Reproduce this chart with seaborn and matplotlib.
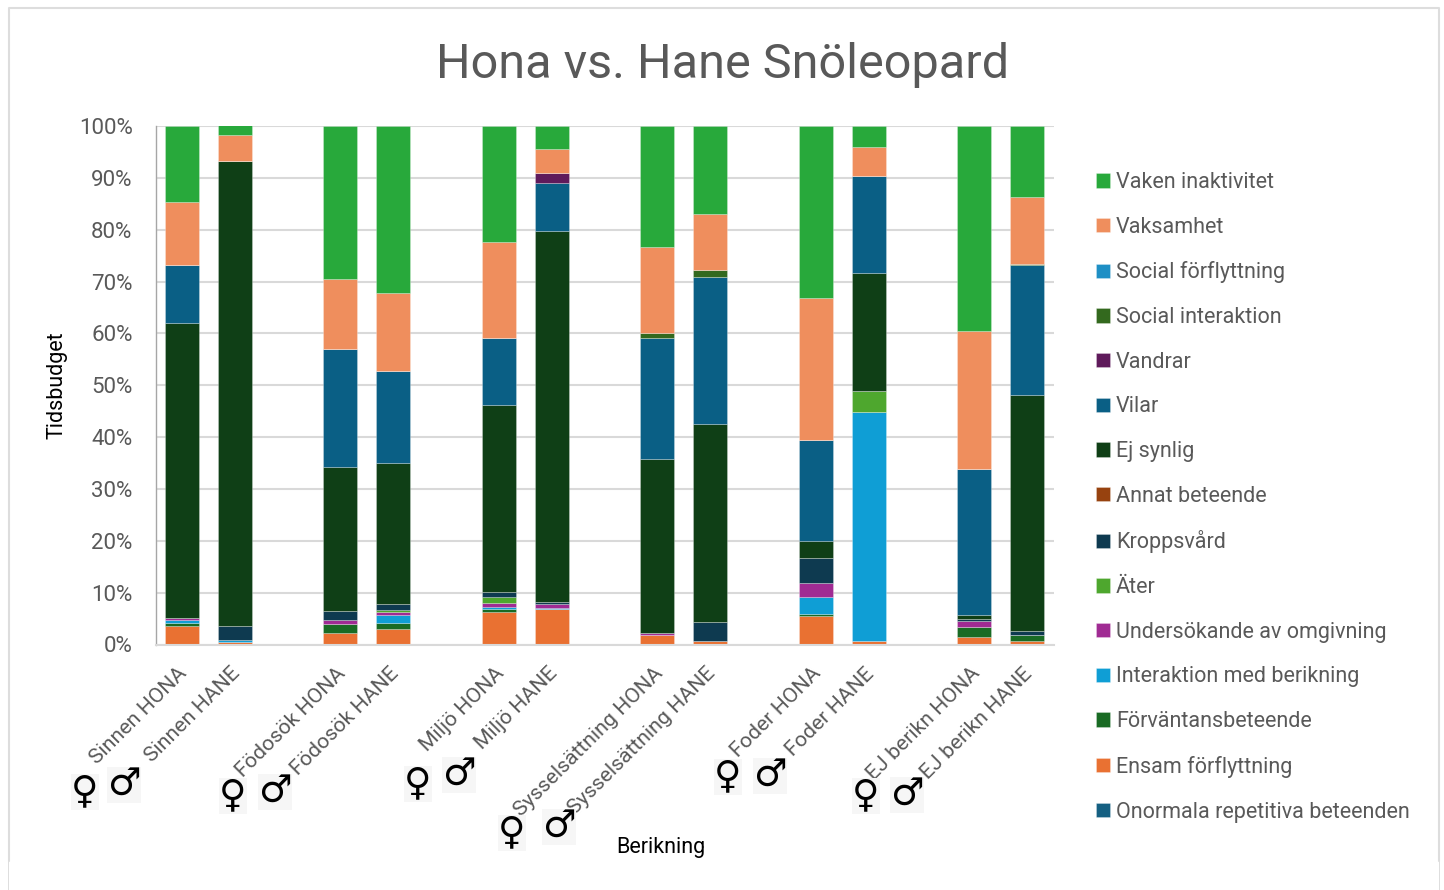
import matplotlib
matplotlib.use('Agg')
import matplotlib.pyplot as plt
from matplotlib.lines import Line2D
from matplotlib.transforms import ScaledTranslation
import numpy as np
import seaborn as sns

bar_labels = ['Sinnen HONA', 'Sinnen HANE', 'Födosök HONA', 'Födosök HANE', 'Miljö HONA', 'Miljö HANE',
              'Sysselsättning HONA', 'Sysselsättning HANE', 'Foder HONA', 'Foder HANE', 'EJ berikn HONA', 'EJ berikn HANE']
bar_slots = [0, 1, 3, 4, 6, 7, 9, 10, 12, 13, 15, 16]

# andel per beteende, nerifrån och upp
onormala = [0.1, 0, 0, 0, 0, 0, 0, 0, 0, 0, 0, 0]
ensam = [3.4, 0.5, 2.2, 3.0, 6.3, 6.8, 1.9, 0.65, 5.5, 0.65, 1.4, 0.65]
forvantans = [0.65, 0, 1.8, 1.2, 0.5, 0, 0, 0, 0.35, 0, 2.0, 1.25]
interaktion = [0.5, 0.3, 0, 1.4, 0.4, 0.3, 0, 0, 3.25, 44.25, 0, 0]
undersokande = [0.4, 0, 0.8, 0.7, 0.8, 0.8, 0.3, 0, 2.7, 0, 1.2, 0]
ater = [0, 0, 0, 0.3, 1.1, 0, 0, 0, 0, 4.0, 0, 0]
kroppsvard = [0, 2.7, 1.6, 1.3, 1.1, 0.3, 0, 3.6, 4.9, 0, 0.25, 0.8]
annat = [0, 0, 0, 0, 0, 0, 0, 0, 0, 0, 0, 0]
ej_synlig = [56.9, 89.8, 27.8, 27.1, 35.9, 71.5, 33.5, 38.25, 3.2, 22.8, 0.75, 45.5]
vilar = [11.2, 0, 22.8, 17.8, 13.0, 9.3, 23.4, 28.3, 19.5, 18.7, 28.3, 24.9]
vandrar = [0, 0, 0, 0, 0, 1.9, 0, 0, 0, 0, 0, 0]
social_int = [0, 0, 0, 0, 0, 0, 0.9, 1.4, 0, 0, 0, 0.2]
social_forf = [0, 0, 0, 0, 0, 0, 0, 0, 0, 0, 0, 0]
vaksamhet = [12.1, 5.0, 13.5, 15.0, 18.5, 4.7, 16.6, 10.8, 27.4, 5.6, 26.6, 13.0]
vaken = [14.7, 1.8, 29.5, 32.2, 22.4, 4.4, 23.4, 17.0, 33.2, 4.0, 39.5, 13.7]

series = [
    ('Onormala repetitiva beteenden', onormala, '#156082'),
    ('Ensam förflyttning', ensam, '#E97132'),
    ('Förväntansbeteende', forvantans, '#196B24'),
    ('Interaktion med berikning', interaktion, '#0F9ED5'),
    ('Undersökande av omgivning', undersokande, '#A02B93'),
    ('Äter', ater, '#4EA72E'),
    ('Kroppsvård', kroppsvard, '#0E3A50'),
    ('Annat beteende', annat, '#97420F'),
    ('Ej synlig', ej_synlig, '#0F3F16'),
    ('Vilar', vilar, '#0A5F85'),
    ('Vandrar', vandrar, '#5F1A5B'),
    ('Social interaktion', social_int, '#33691E'),
    ('Social förflyttning', social_forf, '#1E8FC5'),
    ('Vaksamhet', vaksamhet, '#EF8E5D'),
    ('Vaken inaktivitet', vaken, '#28A93B'),
]

sns.set_theme(style='white')
plt.rcParams['font.family'] = ['Roboto', 'DejaVu Sans']
W, H = 1444, 890
grey = '#595959'

fig = plt.figure(figsize=(W / 100, H / 100), dpi=100)
ax = fig.add_axes([155.5 / W, 1 - 644.5 / H, (1053.5 - 155.5) / W, (644.5 - 126) / H])

bottom = np.zeros(len(bar_slots))
for name, values, color in series:
    sns.barplot(x=bar_slots, y=values, bottom=bottom, native_scale=True, width=0.64, color=color, saturation=1,
                edgecolor=(1, 1, 1, 0.3), linewidth=0.6, label=name, legend=False, ax=ax)
    bottom = bottom + np.array(values)

ax.set_xlim(-0.5, 16.5)
ax.set_ylim(0, 100)
ax.set_yticks(range(0, 101, 10))
ax.set_yticklabels([f'{v}%' for v in range(0, 101, 10)], fontsize=16, color=grey)
ax.set_xticks(bar_slots)
ax.set_xticklabels(bar_labels, rotation=45, ha='right', rotation_mode='anchor', fontsize=15.3, color=grey)
ax.tick_params(axis='both', length=0)
ax.tick_params(axis='y', pad=16.5)
ax.tick_params(axis='x', pad=14)
for lab in ax.get_xticklabels():
    lab.set_transform(lab.get_transform() + ScaledTranslation(-4.5 / 100, 0, fig.dpi_scale_trans))
ax.grid(axis='y', color='#D9D9D9', linewidth=1.5)
ax.set_axisbelow(True)
sns.despine(ax=ax, top=True, right=True)
ax.spines['left'].set_color('#A6A6A6')
ax.spines['left'].set_linewidth(1)
ax.spines['bottom'].set_color('#D9D9D9')
ax.spines['bottom'].set_linewidth(1.5)

ax.set_ylabel('')
ax.set_xlabel('')
fig.text(57 / W, 1 - 385 / H, 'Tidsbudget', rotation=90, ha='center', va='center', fontsize=15.5, color='black')
fig.text(661 / W, 1 - 847 / H, 'Berikning', ha='center', va='center', fontsize=15.5, color='black')
fig.text(723 / W, 1 - 65 / H, 'Hona vs. Hane Snöleopard', ha='center', va='center', fontsize=35, color=grey)

handles, labels = ax.get_legend_handles_labels()
leg = ax.legend(handles[::-1], labels[::-1], loc='upper left', bbox_to_anchor=(1096 / W, 1 - 172 / H),
                bbox_transform=fig.transFigure, frameon=False, fontsize=15.5, labelcolor=grey,
                labelspacing=1.1, handlelength=0.65, handleheight=0.65, handletextpad=0.28, borderpad=0, borderaxespad=0)


def frame_line(xs, ys, lw):
    fig.add_artist(Line2D(np.array(xs) / W, 1 - np.array(ys) / H, color='#DDDDDD', linewidth=lw, transform=fig.transFigure))


# ramen runt diagrammet, utan underkant
frame_line([8.5, 8.5, 1438.5, 1438.5], [861, 7.5, 7.5, 861], 1.5)
frame_line([8, 8], [861, 890], 0.7)
frame_line([1439, 1439], [861, 890], 0.7)

# könssymboler som klistrats in under axeln
for sign, px, py in [('♀', 85, 792), ('♂', 124, 785), ('♀', 233, 796), ('♂', 275, 792), ('♀', 418, 784), ('♂', 459, 775),
                     ('♀', 512, 833), ('♂', 559, 827), ('♀', 728, 777), ('♂', 770, 776), ('♀', 866, 796), ('♂', 907, 795)]:
    fig.text(px / W, 1 - py / H, sign, ha='center', va='center', fontsize=27, color='black', family='DejaVu Sans',
             bbox=dict(facecolor='#F6F6F6', edgecolor='none', pad=0))

fig.savefig('out.png', dpi=100)
